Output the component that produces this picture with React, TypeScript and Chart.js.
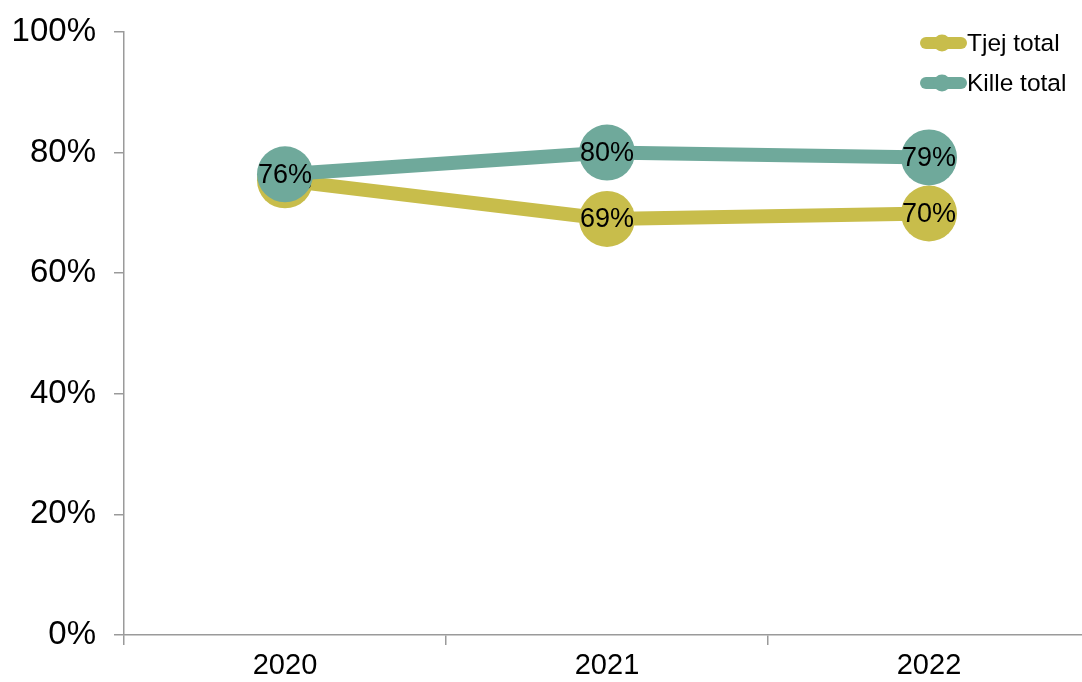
import React, { useEffect, useRef } from "react";
import { Chart, registerables } from "chart.js";

Chart.register(...registerables);

const categories = ["2020", "2021", "2022"];
const tjejValues = [75.4, 69.0, 69.9];
const killeValues = [76.4, 80.0, 79.2];
const seriesNames = ["Tjej total", "Kille total"];
const yTicks = [0, 20, 40, 60, 80, 100];

const YELLOW = "#C8BD4B";
const TEAL = "#6FA99B";
const AXIS = "#9a9a9a";
const FONT = "'Liberation Sans', Arial, sans-serif";

const labelPlugin = {
  id: "pointLabels",
  afterDatasetDraw(chart: any, args: any) {
    const ctx = chart.ctx;
    const meta = args.meta;
    const ds = chart.data.datasets[args.index];
    ctx.save();
    ctx.font = `27px ${FONT}`;
    ctx.fillStyle = "#000";
    ctx.textAlign = "center";
    ctx.textBaseline = "middle";
    meta.data.forEach((pt: any, i: number) => {
      ctx.fillText(Math.round(ds.data[i]) + "%", pt.x, pt.y + 1);
    });
    ctx.restore();
  },
};

const legendPlugin = {
  id: "customLegend",
  afterDraw(chart: any) {
    const ctx = chart.ctx;
    const items = [
      { name: seriesNames[0], color: YELLOW, y: 43 },
      { name: seriesNames[1], color: TEAL, y: 83 },
    ];
    ctx.save();
    items.forEach((it) => {
      ctx.strokeStyle = it.color;
      ctx.lineWidth = 12;
      ctx.lineCap = "round";
      ctx.beginPath();
      ctx.moveTo(926, it.y);
      ctx.lineTo(961, it.y);
      ctx.stroke();
      ctx.fillStyle = it.color;
      ctx.beginPath();
      ctx.arc(942, it.y, 8.5, 0, Math.PI * 2);
      ctx.fill();
      ctx.fillStyle = "#000";
      ctx.font = `24.5px ${FONT}`;
      ctx.textAlign = "left";
      ctx.textBaseline = "middle";
      ctx.fillText(it.name, 967, it.y + 1);
    });
    ctx.restore();
  },
};

export default function App() {
  const ref = useRef<HTMLCanvasElement>(null);
  useEffect(() => {
    if (!ref.current) return;
    const chart = new Chart(ref.current, {
      type: "line",
      data: {
        labels: categories,
        datasets: [
          {
            label: seriesNames[0],
            data: tjejValues,
            borderColor: YELLOW,
            backgroundColor: YELLOW,
            pointBackgroundColor: YELLOW,
            borderWidth: 14,
            pointRadius: 28,
            pointHoverRadius: 28,
            pointBorderWidth: 0,
            tension: 0,
            order: 1,
          },
          {
            label: seriesNames[1],
            data: killeValues,
            borderColor: TEAL,
            backgroundColor: TEAL,
            pointBackgroundColor: TEAL,
            borderWidth: 14,
            pointRadius: 28,
            pointHoverRadius: 28,
            pointBorderWidth: 0,
            tension: 0,
            order: 0,
          },
        ],
      },
      options: {
        animation: false,
        responsive: false,
        layout: { padding: { top: 32, left: 0, right: 0, bottom: 0 } },
        plugins: {
          legend: { display: false },
          tooltip: { enabled: false },
        },
        scales: {
          x: {
            type: "category",
            offset: true,
            grid: {
              offset: true,
              drawOnChartArea: false,
              drawTicks: true,
              tickLength: 10,
              color: AXIS,
              lineWidth: 1.5,
            },
            border: { color: AXIS, width: 1.5 },
            ticks: {
              color: "#000",
              font: { size: 29, family: FONT },
              padding: 4,
            },
            afterFit(scale: any) {
              scale.height = 47;
              scale.paddingLeft = 0;
              scale.paddingRight = 0;
            },
          },
          y: {
            min: 0,
            max: 100,
            afterBuildTicks(scale: any) {
              scale.ticks = yTicks.map((v) => ({ value: v }));
            },
            grid: {
              drawOnChartArea: false,
              drawTicks: true,
              tickLength: 10,
              color: AXIS,
              lineWidth: 1.5,
            },
            border: { color: AXIS, width: 1.5 },
            ticks: {
              color: "#000",
              font: { size: 33, family: FONT },
              padding: 18,
              callback: (v: any) => v + "%",
            },
            afterFit(scale: any) {
              scale.width = 124;
              scale.paddingTop = 0;
              scale.paddingBottom = 0;
            },
          },
        },
      },
      plugins: [labelPlugin, legendPlugin],
    });
    return () => chart.destroy();
  }, []);
  return (
    <div
      style={{
        position: "fixed",
        left: 0,
        top: 0,
        width: 1082,
        height: 682,
        overflow: "hidden",
        background: "#fff",
      }}
    >
      <canvas
        ref={ref}
        width={1118}
        height={682}
        style={{ width: 1118, height: 682, display: "block" }}
      />
    </div>
  );
}
